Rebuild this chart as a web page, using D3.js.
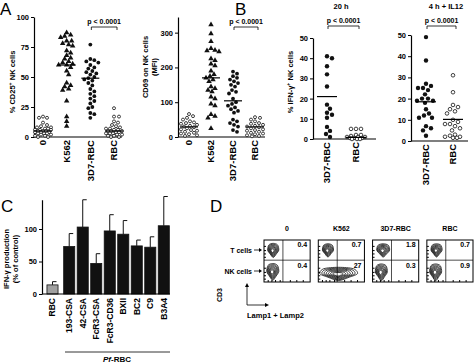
<!DOCTYPE html>
<html>
<head>
<meta charset="utf-8">
<script src="https://cdn.jsdelivr.net/npm/d3@7"></script>
<style>
  body { margin: 0; background: #fff; }
</style>
</head>
<body>
<script>
const width = 474;
const height = 364;
const font = "'Liberation Sans', Arial, sans-serif";

// ---- data ----
// panel A
const aCats = ["0", "K562", "3D7-RBC", "RBC"];
const cd25Zero = [17, 16, 16, 12, 10, 9, 8, 8, 7, 7, 6, 6, 6, 5, 5, 5, 4, 4, 4, 3, 3, 3, 2, 2, 1, 1, 0, 0];
const cd25K562 = [87, 85, 84, 83, 80, 80, 78, 77, 76, 72, 70, 68, 66, 65, 63, 62, 61, 60, 60, 58, 55, 52, 45, 43, 42, 40, 39, 30, 17, 13, 9];
const cd25Pf = [77, 65, 64, 63, 62, 60, 58, 57, 55, 54, 53, 52, 50, 49, 48, 47, 45, 43, 40, 38, 36, 34, 32, 30, 28, 25, 24, 20, 19, 16];
const cd25Rbc = [24, 17, 17, 13, 12, 10, 9, 8, 7, 7, 6, 6, 5, 5, 5, 4, 4, 3, 3, 3, 2, 2, 1, 1, 0, 0];
const cd25Medians = [5, 60, 49, 5];

const cd69Zero = [66, 60, 55, 50, 45, 42, 40, 38, 35, 32, 30, 28, 25, 22, 20, 18, 15, 12, 10, 8, 5, 3];
const cd69K562 = [323, 297, 275, 255, 250, 248, 245, 225, 220, 210, 205, 190, 180, 175, 170, 165, 160, 145, 140, 135, 130, 115, 110, 95, 90, 65, 60, 55, 25];
const cd69Pf = [188, 182, 175, 170, 165, 160, 155, 150, 145, 135, 130, 125, 110, 100, 95, 90, 85, 80, 75, 70, 50, 45, 40, 35, 30, 20, 15];
const cd69Rbc = [57, 55, 50, 45, 40, 38, 35, 32, 30, 28, 25, 22, 20, 18, 15, 12, 10, 8, 5, 3, 2];
const cd69Medians = [29, 170, 104, 29];

// panel B
const bCats = ["3D7-RBC", "RBC"];
const ifn20Pf = [41, 40, 36, 32, 26, 17, 15, 13, 12, 10.5, 6, 4, 2.5, 1];
const ifn20Rbc = [5, 5, 5, 2, 2, 1.5, 1, 1, 1, 0.5, 0.5, 0.5, 0, 0, 0];
const ifn20Medians = [21, 0.8];
const ifn4Pf = [49, 38, 27, 26, 25, 25, 24, 22, 20, 20, 19, 19, 18, 15, 13, 12, 11, 11, 7, 6, 5, 2.5];
const ifn4Rbc = [31, 23, 17, 16, 15, 14, 13, 10, 9, 8, 8, 7, 6, 5, 3, 2.5, 2, 2, 1.5, 1.5];
const ifn4Medians = [18.5, 10.2];

// panel C
const cControl = ["RBC"];
const cStrains = ["193-CSA", "42-CSA", "FcR3-CSA", "FcR3-CD36", "BXII", "BC2", "C9", "B3A4"];
const cValues = [14, 73, 103, 47, 97, 92, 74, 72, 105];
const cErrTops = [19, 93, 145, 62, 122, 113, 83, 88, 150];

// panel D
const dCats = ["0", "K562", "3D7-RBC", "RBC"];
const dTopPct = ["0.4", "0.7", "1.8", "0.7"];
const dBottomPct = ["0.4", "27", "0.3", "0.9"];
// contour populations: [plot, centre x, centre y, radius x, radius y] on a 0-100 grid
const dBlobs = [
  ["0", 20, 76, 12, 16], ["0", 19, 25, 13, 19],
  ["K562", 21, 76, 12, 15], ["K562", 44, 20, 41, 15],
  ["3D7-RBC", 23, 76, 14, 15], ["3D7-RBC", 19, 24, 13, 19],
  ["RBC", 21, 76, 12, 15], ["RBC", 19, 24, 13, 19]
];
const blobLobes = [1.0, 1.1, 1.0, 1.1, 1.0, 0.8, 1.1, 0.8];

const svg = d3.select("body")
  .append("svg")
  .attr("width", width)
  .attr("height", height)
  .attr("font-family", font)
  .attr("font-weight", "bold");

// simple beeswarm: place each point at the nearest free x offset
function swarm(values, y, cx, r, maxHalf) {
  const pts = values.map((v) => ({ v, y: y(v) }));
  pts.sort((a, b) => a.y - b.y);
  const placed = [];
  for (const p of pts) {
    let bestX = cx, bestD = -Infinity;
    for (let k = 0; k <= 2 * maxHalf; k++) {
      const x = cx + (k % 2 ? 1 : -1) * Math.ceil(k / 2);
      let dmin = Infinity;
      for (const q of placed) dmin = Math.min(dmin, Math.hypot(q.x - x, q.y - p.y));
      if (dmin >= 2 * r + 0.3) { bestX = x; break; }
      if (dmin > bestD) { bestD = dmin; bestX = x; }
    }
    p.x = bestX;
    placed.push(p);
  }
  return pts;
}

function styleAxis(ax, size) {
  ax.attr("font-family", font).attr("font-size", size).attr("font-weight", "bold");
  ax.select(".domain").attr("stroke-width", 1.2);
  ax.selectAll(".tick line").attr("stroke-width", 1);
}

function vLabel(x, y, lines, size) {
  const t = svg.append("text")
    .attr("transform", `translate(${x},${y}) rotate(-90)`)
    .attr("text-anchor", "middle")
    .attr("font-size", size);
  lines.forEach((l, i) => {
    const tl = t.append("tspan").attr("x", 0).attr("dy", i === 0 ? "0.35em" : "1.25em");
    l.forEach((part) => {
      const sp = tl.append("tspan").text(part.t);
      if (part.sup) sp.attr("baseline-shift", "super").attr("font-size", size * 0.7);
    });
  });
}

function scatterPanel(o) {
  const g = svg.append("g");
  const y = d3.scaleLinear().domain(o.yDomain).range(o.yRange);
  const x = d3.scalePoint().domain(o.cats).range(o.xRange);

  const ax = g.append("g")
    .attr("transform", `translate(${o.axisX},0)`)
    .call(d3.axisLeft(y).tickValues(o.ticks).tickSize(3).tickPadding(2).tickSizeOuter(0));
  styleAxis(ax, 7.5);

  g.append("line")
    .attr("x1", o.axisX).attr("x2", o.baseEnd)
    .attr("y1", y(0)).attr("y2", y(0))
    .attr("stroke", "#000").attr("stroke-width", 1.2);

  o.cats.forEach((c, i) => {
    const pts = swarm(o.series[i], y, x(c), o.r, o.spread);
    const m = o.markers[i];
    if (m === "tri") {
      g.selectAll(null).data(pts).join("path")
        .attr("d", d3.symbol(d3.symbolTriangle, 13))
        .attr("transform", (d) => `translate(${d.x},${d.y})`)
        .attr("fill", "#111");
    } else {
      g.selectAll(null).data(pts).join("circle")
        .attr("cx", (d) => d.x)
        .attr("cy", (d) => d.y)
        .attr("r", m === "dot" ? o.r : o.r - 0.4)
        .attr("fill", m === "dot" ? "#111" : "#fff")
        .attr("stroke", "#111")
        .attr("stroke-width", m === "dot" ? 0 : 0.8);
    }
    g.append("line")
      .attr("x1", Math.max(o.axisX, x(c) - o.mw)).attr("x2", x(c) + o.mw)
      .attr("y1", y(o.medians[i])).attr("y2", y(o.medians[i]))
      .attr("stroke", "#000").attr("stroke-width", 1.2);
  });

  g.selectAll(null).data(o.cats).join("text")
    .attr("transform", (d) => `translate(${x(d)},${y(0) + 3}) rotate(-90)`)
    .attr("text-anchor", "end")
    .attr("dy", "0.35em")
    .attr("font-size", 9.5)
    .text((d) => d);

  // significance bracket
  const bx1 = x(o.bracket[0]) + 1;
  const bx2 = x(o.bracket[1]) + 3;
  g.append("path")
    .attr("d", `M${bx1},${o.bY + 3}V${o.bY}H${bx2}V${o.bY + 3}`)
    .attr("fill", "none").attr("stroke", "#000").attr("stroke-width", 0.8);
  g.append("text")
    .attr("x", (bx1 + bx2) / 2).attr("y", o.bY - 3)
    .attr("text-anchor", "middle").attr("font-size", 7)
    .text("p < 0.0001");
  return g;
}

// ---- panel A ----
scatterPanel({
  cats: aCats, series: [cd25Zero, cd25K562, cd25Pf, cd25Rbc], medians: cd25Medians,
  markers: ["open", "tri", "dot", "open"],
  yDomain: [0, 100], yRange: [137, 17], ticks: [0, 25, 50, 75, 100],
  axisX: 34, xRange: [43, 114], baseEnd: 122, r: 1.9, spread: 8, mw: 9,
  bracket: ["3D7-RBC", "RBC"], bY: 27
});
scatterPanel({
  cats: aCats, series: [cd69Zero, cd69K562, cd69Pf, cd69Rbc], medians: cd69Medians,
  markers: ["open", "tri", "dot", "open"],
  yDomain: [0, 345], yRange: [137, 17], ticks: [0, 100, 200, 300],
  axisX: 178, xRange: [189, 255], baseEnd: 265, r: 1.9, spread: 8, mw: 9,
  bracket: ["3D7-RBC", "RBC"], bY: 27
});
vLabel(12, 82, [[{ t: "% CD25" }, { t: "+", sup: true }, { t: " NK cells" }]], 7.5);
vLabel(145, 67, [[{ t: "CD69 on NK cells" }], [{ t: "(MFI)" }]], 7.5);

// ---- panel B ----
scatterPanel({
  cats: bCats, series: [ifn20Pf, ifn20Rbc], medians: ifn20Medians,
  markers: ["dot", "open"],
  yDomain: [0, 50], yRange: [139, 38], ticks: [0, 10, 20, 30, 40, 50],
  axisX: 313, xRange: [327, 356], baseEnd: 376, r: 2.2, spread: 9, mw: 10,
  bracket: ["3D7-RBC", "RBC"], bY: 26
});
scatterPanel({
  cats: bCats, series: [ifn4Pf, ifn4Rbc], medians: ifn4Medians,
  markers: ["dot", "open"],
  yDomain: [0, 50], yRange: [141, 35], ticks: [0, 10, 20, 30, 40, 50],
  axisX: 411, xRange: [426, 453], baseEnd: 468, r: 2.2, spread: 9, mw: 10,
  bracket: ["3D7-RBC", "RBC"], bY: 26
});
vLabel(290, 82, [[{ t: "% IFN-γ" }, { t: "+", sup: true }, { t: " NK cells" }]], 7.5);
svg.append("text").attr("x", 341).attr("y", 9).attr("text-anchor", "middle").attr("font-size", 7.5).text("20 h");
svg.append("text").attr("x", 446).attr("y", 9).attr("text-anchor", "middle").attr("font-size", 7.5).text("4 h + IL12");

// ---- panel C ----
const yC = d3.scaleLinear().domain([0, 145]).range([294, 199.75]);
const xCtrl = d3.scaleBand().domain(cControl).range([46, 59]).padding(0.08);
const xStrain = d3.scaleBand().domain(cStrains).range([63, 170]).paddingInner(0.18).paddingOuter(0.05);
const cBars = cControl.concat(cStrains).map((name, i) => ({
  name, value: cValues[i], err: cErrTops[i],
  x: i === 0 ? xCtrl(name) : xStrain(name),
  w: i === 0 ? xCtrl.bandwidth() : xStrain.bandwidth()
}));

const gC = svg.append("g");
gC.selectAll(null).data(cBars).join("line")
  .attr("x1", (d) => d.x + d.w / 2).attr("x2", (d) => d.x + d.w / 2)
  .attr("y1", (d) => yC(d.value)).attr("y2", (d) => yC(d.err))
  .attr("stroke", "#111").attr("stroke-width", 1);
gC.selectAll(null).data(cBars).join("line")
  .attr("x1", (d) => d.x + d.w / 2).attr("x2", (d) => d.x + d.w / 2 + 4)
  .attr("y1", (d) => yC(d.err)).attr("y2", (d) => yC(d.err))
  .attr("stroke", "#111").attr("stroke-width", 1);
gC.selectAll(null).data(cBars).join("rect")
  .attr("x", (d) => d.x).attr("width", (d) => d.w)
  .attr("y", (d) => yC(d.value)).attr("height", (d) => yC(0) - yC(d.value))
  .attr("fill", (d, i) => (i === 0 ? "#a0a0a0" : "#111"))
  .attr("stroke", "#111").attr("stroke-width", 0.8);

const axC = gC.append("g")
  .attr("transform", "translate(42,0)")
  .call(d3.axisLeft(yC).tickValues([0, 50, 100]).tickSize(3).tickPadding(2).tickSizeOuter(0));
styleAxis(axC, 7.5);
gC.append("line").attr("x1", 42).attr("x2", 170).attr("y1", yC(0)).attr("y2", yC(0))
  .attr("stroke", "#000").attr("stroke-width", 1.2);
gC.selectAll(null).data(cBars).join("text")
  .attr("transform", (d) => `translate(${d.x + d.w / 2},${yC(0) + 4}) rotate(-90)`)
  .attr("text-anchor", "end").attr("dy", "0.35em").attr("font-size", 8.5)
  .text((d) => d.name);
gC.append("line").attr("x1", 65).attr("x2", 170).attr("y1", 352).attr("y2", 352)
  .attr("stroke", "#000").attr("stroke-width", 0.8);
const pf = gC.append("text").attr("x", 117).attr("y", 362).attr("text-anchor", "middle").attr("font-size", 8);
pf.append("tspan").attr("font-style", "italic").text("Pf");
pf.append("tspan").text("-RBC");
vLabel(6, 259, [[{ t: "IFN-γ production" }], [{ t: "(% of control)" }]], 7.5);

// ---- panel D ----
const xBox = d3.scaleBand().domain(dCats).range([264, 473]).paddingInner(0.15);
const boxTop = 240, boxBottom = 282;
const ring = d3.line().curve(d3.curveCardinalClosed.tension(0.1));

dCats.forEach((c, i) => {
  const x0 = xBox(c);
  const bw = xBox.bandwidth();
  const xb = d3.scaleLinear().domain([0, 100]).range([x0, x0 + bw]);
  const yb = d3.scaleLinear().domain([0, 100]).range([boxBottom, boxTop]);
  const g = svg.append("g");

  g.append("clipPath").attr("id", `clip${i}`)
    .append("rect").attr("x", x0).attr("y", boxTop).attr("width", bw).attr("height", boxBottom - boxTop);

  const cg = g.append("g").attr("clip-path", `url(#clip${i})`);
  dBlobs.filter((b) => b[0] === c).forEach(([, cx, cy, rx, ry]) => {
    for (let k = 1; k <= 7; k++) {
      const s = 0.15 + 0.85 * k / 7;
      const pts = blobLobes.map((lb, j) => {
        const a = (j / blobLobes.length) * 2 * Math.PI;
        return [xb(cx - 2 * (1 - s) + s * rx * lb * Math.cos(a)), yb(cy - 2 * (1 - s) + s * ry * lb * Math.sin(a))];
      });
      cg.append("path").attr("d", ring(pts))
        .attr("fill", "none").attr("stroke", "#111").attr("stroke-width", 0.8);
    }
  });

  // quadrant gates
  g.append("line").attr("x1", xb(41)).attr("x2", xb(41)).attr("y1", boxTop).attr("y2", boxBottom)
    .attr("stroke", "#000").attr("stroke-width", 0.7);
  g.append("line").attr("x1", x0).attr("x2", x0 + bw).attr("y1", yb(52)).attr("y2", yb(52))
    .attr("stroke", "#000").attr("stroke-width", 0.7);

  // minor ticks on the plot frame
  g.append("g").attr("transform", `translate(${x0},0)`)
    .call(d3.axisLeft(yb).tickValues([8, 16, 24, 34, 60, 68, 76, 86]).tickSize(-2).tickFormat(""))
    .call((a) => a.select(".domain").remove());
  g.append("g").attr("transform", `translate(0,${boxBottom})`)
    .call(d3.axisBottom(xb).tickValues([8, 16, 24, 34, 56, 70, 84]).tickSize(-2).tickFormat(""))
    .call((a) => a.select(".domain").remove());

  g.append("rect").attr("x", x0).attr("y", boxTop).attr("width", bw).attr("height", boxBottom - boxTop)
    .attr("fill", "none").attr("stroke", "#000").attr("stroke-width", 1);

  g.append("text").attr("x", x0 + bw / 2).attr("y", 231).attr("text-anchor", "middle").attr("font-size", 7).text(c);
  g.append("text").attr("x", x0 + bw - 3).attr("y", 247).attr("text-anchor", "end").attr("font-size", 7).text(dTopPct[i]);
  g.append("text").attr("x", x0 + bw - 3).attr("y", 268).attr("text-anchor", "end").attr("font-size", 7).text(dBottomPct[i]);
});

// row labels with arrows
[["T cells", 250], ["NK cells", 271]].forEach(([t, y]) => {
  svg.append("text").attr("x", 252).attr("y", y + 2.5).attr("text-anchor", "end").attr("font-size", 7).text(t);
  svg.append("path").attr("d", `M254,${y}H260`).attr("stroke", "#000").attr("stroke-width", 0.8);
  svg.append("path").attr("d", `M259,${y - 2}L262,${y}L259,${y + 2}Z`).attr("fill", "#000");
});

// CD3 / Lamp axes arrows
svg.append("path").attr("d", "M247,305V286M247,305H266").attr("fill", "none").attr("stroke", "#000").attr("stroke-width", 0.8);
svg.append("path").attr("d", "M245,287L247,283L249,287Z").attr("fill", "#000");
svg.append("path").attr("d", "M265,303L269,305L265,307Z").attr("fill", "#000");
vLabel(220, 295, [[{ t: "CD3" }]], 7);
svg.append("text").attr("x", 247).attr("y", 318).attr("font-size", 7.5).text("Lamp1 + Lamp2");

// panel letters
[["A", 0, 15], ["B", 235, 15], ["C", 1, 212], ["D", 210, 212]].forEach(([t, x, y]) => {
  svg.append("text").attr("x", x).attr("y", y).attr("font-size", 17).attr("font-weight", "normal").text(t);
});
</script>
</body>
</html>
